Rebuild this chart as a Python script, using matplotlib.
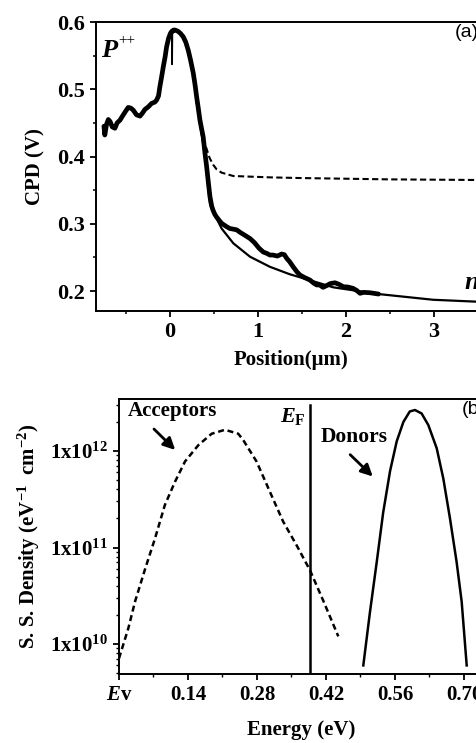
import numpy as np
import matplotlib
matplotlib.use("Agg")
import matplotlib.pyplot as plt
from matplotlib.ticker import MultipleLocator, FixedLocator, LogLocator, NullFormatter

plt.rcParams['font.family'] = ['Liberation Serif', 'DejaVu Serif']
plt.rcParams['font.weight'] = 'bold'
plt.rcParams['mathtext.fontset'] = 'custom'
plt.rcParams['mathtext.rm'] = 'Liberation Serif'
plt.rcParams['mathtext.bf'] = 'Liberation Serif:bold'
plt.rcParams['mathtext.it'] = 'Liberation Serif:bold:italic'

# (a) CPD profile: measured data
pos_meas = [-0.75, -0.74, -0.72, -0.70, -0.68, -0.655, -0.625, -0.60, -0.568, -0.53,
            -0.50, -0.474, -0.445, -0.417, -0.38, -0.34, -0.31, -0.284, -0.245, -0.208,
            -0.17, -0.151, -0.13, -0.114, -0.095, -0.076, -0.055, -0.038, -0.015, 0.005,
            0.020, 0.030, 0.038, 0.06, 0.094, 0.12, 0.151, 0.18, 0.208,
            0.235, 0.265, 0.285, 0.303, 0.322, 0.341, 0.36, 0.378, 0.398, 0.417,
            0.436, 0.455, 0.475, 0.49, 0.51, 0.53, 0.56, 0.585, 0.606, 0.64,
            0.68, 0.72, 0.758, 0.80, 0.85, 0.91, 0.96, 1.01, 1.06, 1.10,
            1.136, 1.17, 1.22, 1.27, 1.30, 1.33, 1.36, 1.40, 1.44, 1.477,
            1.53, 1.59, 1.63, 1.667, 1.70, 1.74, 1.78, 1.82, 1.875, 1.92,
            1.97, 2.02, 2.08, 2.12, 2.16, 2.20, 2.27, 2.37]
cpd_meas = [0.445, 0.432, 0.448, 0.455, 0.452, 0.444, 0.442, 0.450, 0.454, 0.462,
            0.468, 0.473, 0.472, 0.469, 0.462, 0.460, 0.465, 0.470, 0.474, 0.479,
            0.481, 0.484, 0.490, 0.504, 0.518, 0.533, 0.548, 0.563, 0.576, 0.583,
            0.586, 0.586, 0.588, 0.588, 0.586, 0.583, 0.578, 0.570, 0.558,
            0.543, 0.524, 0.507, 0.489, 0.472, 0.454, 0.441, 0.429, 0.405, 0.385,
            0.362, 0.340, 0.326, 0.320, 0.314, 0.310, 0.305, 0.301, 0.299, 0.296,
            0.293, 0.292, 0.291, 0.287, 0.283, 0.278, 0.272, 0.264, 0.258, 0.256,
            0.2535, 0.2535, 0.252, 0.255, 0.254, 0.248, 0.2436, 0.236, 0.229, 0.2238,
            0.220, 0.2164, 0.212, 0.209, 0.209, 0.2055, 0.208, 0.211, 0.2123, 0.210,
            0.2064, 0.206, 0.204, 0.201, 0.1966, 0.198, 0.1975, 0.1955]
# thin glitch in the measured trace near the peak
pos_spike = [0.022, 0.025, 0.028]
cpd_spike = [0.584, 0.537, 0.584]

# (a) simulated curves
pos_fit = [0.30, 0.36, 0.40, 0.43, 0.455, 0.53, 0.587, 0.72, 0.91, 1.136,
           1.36, 1.515, 1.856, 2.37, 2.99, 3.6]
cpd_fit = [0.484, 0.434, 0.400, 0.360, 0.330, 0.308, 0.293, 0.271, 0.251, 0.236,
           0.225, 0.219, 0.2055, 0.1955, 0.187, 0.1835]
pos_dash = [0.30, 0.36, 0.38, 0.42, 0.45, 0.49, 0.53, 0.587, 0.72, 1.136, 1.48, 2.5, 3.6]
cpd_dash = [0.484, 0.434, 0.425, 0.410, 0.398, 0.388, 0.381, 0.376, 0.371, 0.369, 0.368, 0.366, 0.365]

# (b) surface state density
e_acc = [0.0, 0.019, 0.0325, 0.053, 0.073, 0.093, 0.1136, 0.134, 0.161, 0.188,
         0.215, 0.242, 0.252, 0.279, 0.306, 0.333, 0.3606, 0.3876, 0.4146, 0.445]
n_acc = [7.1e9, 1.46e10, 2.75e10, 6.0e10, 1.24e11, 2.75e11, 4.8e11, 7.8e11, 1.15e12, 1.51e12,
         1.66e12, 1.51e12, 1.30e12, 7.8e11, 3.8e11, 1.86e11, 1.05e11, 5.8e10, 2.8e10, 1.2e10]
e_don = [0.4957, 0.509, 0.523, 0.536, 0.55, 0.5635, 0.577, 0.590, 0.6006, 0.614,
         0.6276, 0.6446, 0.658, 0.6716, 0.685, 0.6953, 0.7055]
n_don = [6.0e9, 2.1e10, 7.1e10, 2.3e11, 6.2e11, 1.26e12, 2.0e12, 2.57e12, 2.66e12, 2.45e12,
         1.86e12, 1.07e12, 5.2e11, 2.0e11, 7.1e10, 2.75e10, 6.0e9]
e_fermi = 0.3875
e_ticks = [0.0, 0.14, 0.28, 0.42, 0.56, 0.70]
e_labels = ['$E$v', '0.14', '0.28', '0.42', '0.56', '0.70']

fig = plt.figure(figsize=(4.77, 7.43), dpi=100)
W, H = 477.0, 743.0

# ---- panel (a)
ax1 = fig.add_axes([96 / W, 1 - 311 / H, (486.8 - 96) / W, (311 - 22) / H])
ax1.plot(pos_meas, cpd_meas, color='black', lw=3.4, solid_joinstyle='round', solid_capstyle='round')
ax1.plot(pos_spike, cpd_spike, color='black', lw=1.2)
ax1.plot(pos_fit, cpd_fit, color='black', lw=1.6)
ax1.plot(pos_dash, cpd_dash, color='black', lw=1.5, dashes=(3, 1.6))
ax1.set_xlim(-0.84, 3.6)
ax1.set_ylim(0.1703, 0.6)
ax1.xaxis.set_major_locator(FixedLocator([0, 1, 2, 3]))
ax1.xaxis.set_minor_locator(FixedLocator([-0.5, 0.5, 1.5, 2.5, 3.5]))
ax1.yaxis.set_major_locator(FixedLocator([0.2, 0.3, 0.4, 0.5, 0.6]))
ax1.yaxis.set_minor_locator(MultipleLocator(0.05))
ax1.yaxis.set_major_formatter(plt.FuncFormatter(lambda v, p: f'{v:.1f}'))
ax1.tick_params(which='major', direction='out', length=4.5, width=1.3, labelsize=16)
ax1.tick_params(which='minor', direction='out', length=2.5, width=1.1)
ax1.tick_params(top=False, right=False, which='both')
for s in ax1.spines.values():
    s.set_linewidth(1.4)
ax1.set_ylabel('CPD (V)', fontsize=15, fontweight='bold', labelpad=8)
ax1.set_xlabel('Position(\u03bcm)', fontsize=15, fontweight='bold', labelpad=6)
ax1.text(-0.78, 0.548, '$P$', fontsize=19)
ax1.text(-0.585, 0.567, '++', fontsize=11, fontweight='normal')
ax1.text(3.34, 0.203, '$n$', fontsize=19)
ax1.text(3.24, 0.597, '(a)', fontsize=14, fontweight='normal', va='top',
         family=['Liberation Sans', 'DejaVu Sans'])

# ---- panel (b)
ax2 = fig.add_axes([119 / W, 1 - 674 / H, (483.7 - 119) / W, (674 - 399) / H])
ax2.plot(e_acc, n_acc, color='black', lw=1.8, dashes=(2.4, 1.5))
ax2.plot(e_don, n_don, color='black', lw=1.8)
ax2.set_yscale('log')
ax2.set_xlim(0, 0.74)
ax2.set_ylim(4.89e9, 3.46e12)
ax2.plot([e_fermi, e_fermi], [4.89e9, 3.0e12], color='black', lw=1.8)
ax2.xaxis.set_major_locator(FixedLocator(e_ticks))
ax2.xaxis.set_minor_locator(FixedLocator([0.07, 0.21, 0.35, 0.49, 0.63]))
ax2.set_xticklabels(e_labels)
ax2.yaxis.set_major_locator(FixedLocator([1e10, 1e11, 1e12]))
ax2.yaxis.set_major_formatter(plt.FuncFormatter(
    lambda v, p: r'$\mathbf{1x10^{%d}}$' % int(round(np.log10(v)))))
ax2.yaxis.set_minor_locator(LogLocator(base=10, subs=np.arange(2, 10), numticks=20))
ax2.yaxis.set_minor_formatter(NullFormatter())
ax2.tick_params(which='major', direction='out', length=4.5, width=1.3, labelsize=15)
ax2.tick_params(which='minor', direction='out', length=2.5, width=1.0)
ax2.tick_params(top=False, right=False, which='both')
for s in ax2.spines.values():
    s.set_linewidth(1.4)
ax2.set_ylabel(r'S. S. Density (eV$^{\mathbf{-1}}$  cm$^{\mathbf{-2}}$)', fontsize=15,
               fontweight='bold', labelpad=6)
ax2.set_xlabel('Energy (eV)', fontsize=15, fontweight='bold', labelpad=11)

ax2.text(0.018, 2.3e12, 'Acceptors', fontsize=15)
ax2.annotate('', xy=(0.118, 9.8e11), xytext=(0.067, 1.77e12),
             arrowprops=dict(arrowstyle='-|>,head_length=0.7,head_width=0.35', color='black', lw=2))
ax2.text(0.327, 2.0e12, '$E_\\mathbf{F}$', fontsize=16)
ax2.text(0.41, 1.25e12, 'Donors', fontsize=15.5)
ax2.annotate('', xy=(0.519, 5.2e11), xytext=(0.465, 9.6e11),
             arrowprops=dict(arrowstyle='-|>,head_length=0.7,head_width=0.35', color='black', lw=2))
ax2.text(0.696, 3.3e12, '(b)', fontsize=14, fontweight='normal', va='top',
         family=['Liberation Sans', 'DejaVu Sans'])

fig.savefig('out.png', dpi=100)
